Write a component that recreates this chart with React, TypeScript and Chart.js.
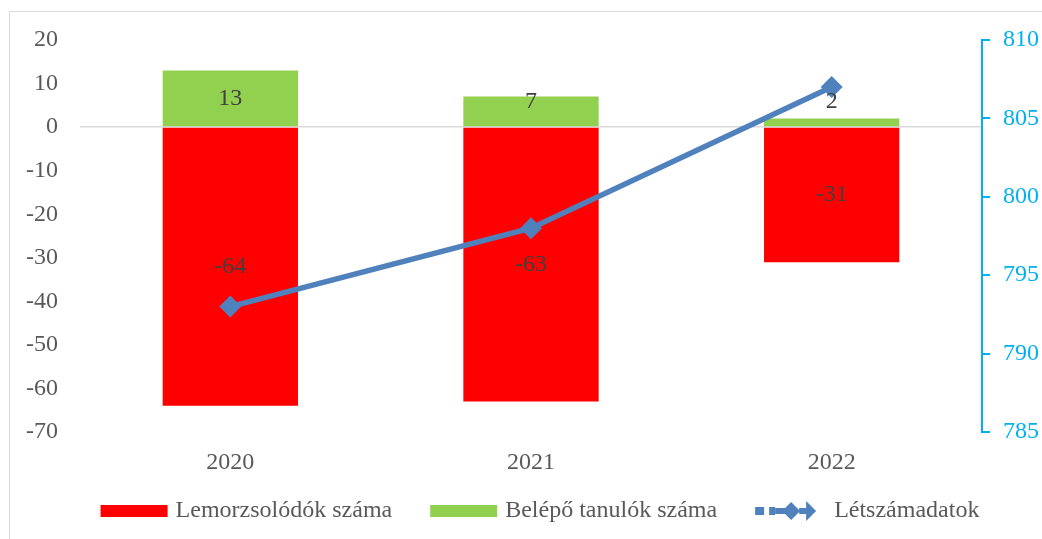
import React, { useEffect, useRef } from "react";
import { Chart, registerables } from "chart.js";

Chart.register(...registerables);

const categories = ["2020", "2021", "2022"];
const dropouts = [-64, -63, -31];
const entrants = [13, 7, 2];
const headcount = [793, 798, 807];

const leftMin = -70;
const leftMax = 20;
const leftStep = 10;
const rightMin = 785;
const rightMax = 810;
const rightStep = 5;

const seriesNames = ["Lemorzsolódók száma", "Belépő tanulók száma", "Létszámadatok"];

const FONT = "'Liberation Serif', 'Times New Roman', serif";
const FS = 24;
const RED = "#FF0000";
const GREEN = "#92D050";
const BLUE = "#4F81BD";
const CYAN = "#00B0F0";
const TEXT = "#595959";
const LABEL = "#404040";

const barLabelPlugin = {
  id: "barLabels",
  afterDatasetsDraw(chart: any) {
    const ctx = chart.ctx;
    const zeroY = chart.scales.y.getPixelForValue(0);
    ctx.save();
    ctx.font = `${FS}px ${FONT}`;
    ctx.fillStyle = LABEL;
    ctx.textAlign = "center";
    ctx.textBaseline = "middle";
    chart.data.datasets.forEach((ds: any, di: number) => {
      if (ds.type === "line") return;
      const meta = chart.getDatasetMeta(di);
      meta.data.forEach((el: any, i: number) => {
        const v = ds.data[i];
        const center = (el.y + el.base) / 2;
        let y = center;
        if (v > 0) y = Math.min(center, zeroY - 25);
        ctx.fillText(String(v), el.x, y);
      });
    });
    ctx.restore();
  },
};

const legendPlugin = {
  id: "customLegend",
  afterDraw(chart: any) {
    const ctx = chart.ctx;
    ctx.save();
    ctx.font = `${FS}px ${FONT}`;
    ctx.textBaseline = "middle";
    ctx.textAlign = "left";
    const items = [
      { kind: "box", color: RED, text: seriesNames[0], glyph: 67, gap: 8 },
      { kind: "box", color: GREEN, text: seriesNames[1], glyph: 67, gap: 8 },
      { kind: "line", color: BLUE, text: seriesNames[2], glyph: 61, gap: 18 },
    ];
    const itemGap = 38;
    const widths = items.map((it) => it.glyph + it.gap + ctx.measureText(it.text).width);
    const total = widths.reduce((a, b) => a + b, 0) + itemGap * (items.length - 1);
    const ca = chart.chartArea;
    let x = (ca.left + ca.right) / 2 + 9 - total / 2;
    const y = chart.height - 28;
    items.forEach((it, i) => {
      ctx.fillStyle = it.color;
      if (it.kind === "box") {
        ctx.fillRect(x, y - 6, it.glyph, 12);
      } else {
        ctx.fillRect(x, y - 4, 9, 8);
        ctx.fillRect(x + 14, y - 4, 6, 8);
        ctx.fillRect(x + 20, y - 3, 10, 6);
        ctx.beginPath();
        ctx.moveTo(x + 36, y - 9);
        ctx.lineTo(x + 45, y);
        ctx.lineTo(x + 36, y + 9);
        ctx.lineTo(x + 27, y);
        ctx.closePath();
        ctx.fill();
        ctx.fillRect(x + 44, y - 3, 8, 6);
        ctx.beginPath();
        ctx.moveTo(x + 51, y - 10);
        ctx.lineTo(x + 61, y);
        ctx.lineTo(x + 51, y + 10);
        ctx.closePath();
        ctx.fill();
      }
      ctx.fillStyle = TEXT;
      ctx.fillText(it.text, x + it.glyph + it.gap, y);
      x += widths[i] + itemGap;
    });
    ctx.restore();
  },
};

export default function App() {
  const canvasRef = useRef<HTMLCanvasElement | null>(null);

  useEffect(() => {
    if (!canvasRef.current) return;
    const chart = new Chart(canvasRef.current, {
      type: "bar",
      data: {
        labels: categories,
        datasets: [
          {
            type: "line",
            label: seriesNames[2],
            data: headcount,
            yAxisID: "y1",
            borderColor: BLUE,
            backgroundColor: BLUE,
            borderWidth: 5.5,
            pointStyle: "rectRot",
            pointRadius: 11,
            pointBackgroundColor: BLUE,
            pointBorderWidth: 0,
            tension: 0,
            order: 0,
          } as any,
          {
            type: "bar",
            label: seriesNames[0],
            data: dropouts,
            backgroundColor: RED,
            yAxisID: "y",
            categoryPercentage: 1,
            barPercentage: 0.45,
            order: 1,
          },
          {
            type: "bar",
            label: seriesNames[1],
            data: entrants,
            backgroundColor: GREEN,
            yAxisID: "y",
            categoryPercentage: 1,
            barPercentage: 0.45,
            order: 1,
          },
        ],
      },
      options: {
        animation: false,
        responsive: true,
        maintainAspectRatio: false,
        layout: { padding: { left: 0, right: 0, top: 28, bottom: 67 } },
        plugins: {
          legend: { display: false },
          tooltip: { enabled: false },
        },
        scales: {
          x: {
            stacked: true,
            grid: { display: false, drawTicks: false },
            border: { display: false },
            ticks: { color: TEXT, font: { family: FONT, size: FS }, padding: 16 },
            afterFit(scale: any) {
              scale.height = 40;
              scale.paddingLeft = 0;
              scale.paddingRight = 0;
            },
          },
          y: {
            stacked: true,
            position: "left",
            min: leftMin,
            max: leftMax,
            ticks: { stepSize: leftStep, color: TEXT, font: { family: FONT, size: FS }, padding: 22 },
            grid: {
              drawTicks: false,
              lineWidth: 1.5,
              color: (c: any) => (c.tick && c.tick.value === 0 ? "#D9D9D9" : "rgba(0,0,0,0)"),
            },
            border: { display: false },
            afterFit(scale: any) {
              scale.width = 70;
              scale.paddingTop = 0;
              scale.paddingBottom = 0;
            },
          },
          y1: {
            position: "right",
            min: rightMin,
            max: rightMax,
            ticks: { stepSize: rightStep, color: CYAN, font: { family: FONT, size: FS }, padding: 13 },
            grid: {
              drawOnChartArea: false,
              drawTicks: true,
              tickLength: 8,
              color: CYAN,
              lineWidth: 2,
            },
            border: { display: true, color: CYAN, width: 2 },
            afterFit(scale: any) {
              scale.width = 60;
              scale.paddingTop = 0;
              scale.paddingBottom = 0;
            },
          },
        },
      },
      plugins: [barLabelPlugin, legendPlugin],
    } as any);
    return () => chart.destroy();
  }, []);

  return (
    <div
      style={{
        position: "fixed",
        left: 9,
        top: 11,
        width: 1033,
        height: 528,
        borderLeft: "1px solid #D9D9D9",
        borderTop: "1px solid #D9D9D9",
        boxSizing: "border-box",
        background: "#fff",
      }}
    >
      <div style={{ position: "relative", width: 1032, height: 527 }}>
        <canvas ref={canvasRef} />
      </div>
    </div>
  );
}
